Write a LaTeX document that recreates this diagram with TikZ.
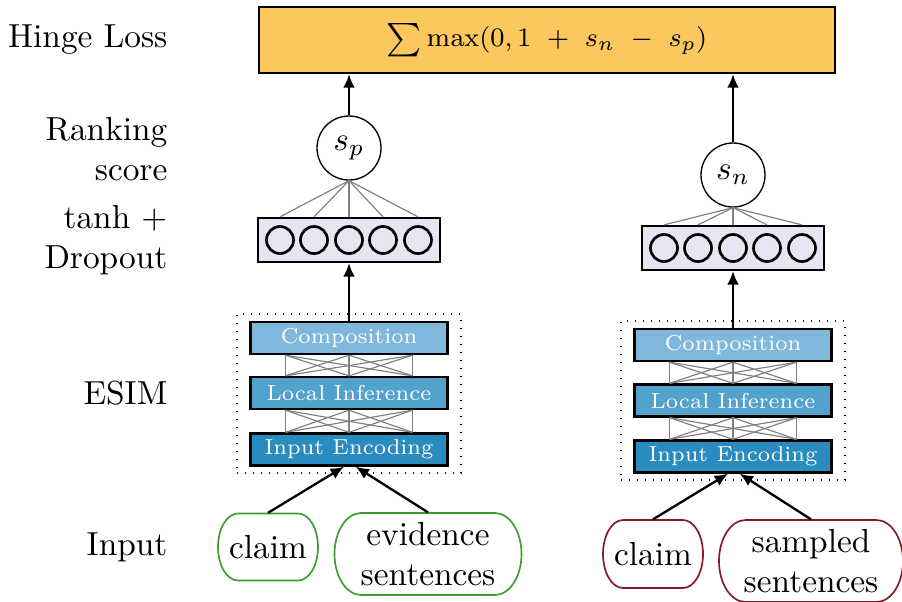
\documentclass[tikz,border=0pt]{standalone}
\usetikzlibrary{arrows.meta}
\definecolor{hingeC}{HTML}{FCC75D}
\definecolor{lavC}{HTML}{E8E4F2}
\definecolor{compC}{HTML}{7FB8DA}
\definecolor{infC}{HTML}{52A2CE}
\definecolor{encC}{HTML}{2A8BBF}
\definecolor{posC}{HTML}{3A9E2E}
\definecolor{negC}{HTML}{85182A}
% #1 node, #2 colour, #3 half width, #4 half height, #5 end x-radius (all with units)
\newcommand{\stadium}[5]{%
  \draw[#2,line width=0.5pt,shift={(#1.center)}]
    ({-#3+#5},#4) -- ({#3-#5},#4)
    arc[start angle=90,end angle=-90,x radius=#5,y radius=#4]
    -- ({-#3+#5},-#4)
    arc[start angle=270,end angle=90,x radius=#5,y radius=#4]
    -- cycle;}
\begin{document}
\begin{tikzpicture}[x=0.3pt,y=-0.3pt,
  lbl/.style={anchor=east,align=right,inner sep=0pt},
  hingebox/.style={draw,line width=0.7pt,fill=hingeC,minimum width=172.8pt,minimum height=19.8pt,inner sep=0pt},
  score/.style={draw,circle,line width=0.4pt,minimum size=19.2pt,inner sep=0pt},
  nbox/.style={draw,line width=0.7pt,fill=lavC,minimum width=54.6pt,minimum height=13.2pt,inner sep=0pt},
  neuron/.style={draw,circle,line width=0.8pt,minimum size=8.1pt,inner sep=0pt},
  layer/.style={draw,line width=0.7pt,minimum width=59.1pt,minimum height=9.6pt,inner sep=0pt,text=white,font=\fontsize{6.5}{8}\selectfont},
  dotbox/.style={draw,dotted,line width=0.4pt,minimum width=67.2pt,minimum height=47.7pt,inner sep=0pt},
  wire/.style={draw=gray,line width=0.35pt},
  arr/.style={line width=0.7pt,-{Latex[length=4pt,width=3.5pt]}},
  inp/.style={align=center,inner sep=0pt}
]
\useasboundingbox (0,0) rectangle (902,601);

% left labels
\node[lbl] (lHinge) at (168,40) {Hinge Loss};
\node[lbl] (lRank) at (168,149) {Ranking\\score};
\node[lbl] (lTanh) at (168,240) {tanh +\\Dropout};
\node[lbl] (lEsim) at (168,393) {ESIM};
\node[lbl] (lInput) at (168,547) {Input};

% hinge box
\node[hingebox] (hinge) at (547,40) {\fontsize{8}{10}\selectfont$\sum \max(0,1\ +\ s_n\ -\ s_p)$};

% ---------- left column ----------
\node[score] (sp) at (349,148) {$s_p$};
\node[nbox] (nbL) at (349,240) {};
\foreach \i/\dx in {1/-69,2/-35,3/0,4/34,5/69}{
  \node[neuron] (nL\i) at (349+\dx,240) {};
  \draw[wire] (sp.south) -- (nL\i |- nbL.north);
}
\node[dotbox] (esL) at (349,393.5) {};
\node[layer,fill=compC] (coL) at (349,338) {Composition};
\node[layer,fill=infC] (liL) at (349,393) {Local Inference};
\node[layer,fill=encC] (ieL) at (349,449.5) {Input Encoding};
\foreach \a in {-63.5,0,63.5}{
  \foreach \b in {-63.5,0,63.5}{
    \draw[wire] ([xshift=\a*0.3pt]coL.south) -- ([xshift=\b*0.3pt]liL.north);
    \draw[wire] ([xshift=\a*0.3pt]liL.south) -- ([xshift=\b*0.3pt]ieL.north);
  }
}
\node[inp,minimum width=30pt,minimum height=20.1pt] (claimL) at (268,547) {claim};
\node[inp,minimum width=56.1pt,minimum height=24.6pt] (evid) at (428,554) {evidence\\sentences};
\stadium{claimL}{posC}{15pt}{10.05pt}{6pt}
\stadium{evid}{posC}{28.05pt}{12.3pt}{8pt}
\draw[arr] (claimL.north) -- ([xshift=-1.5pt]ieL.south);
\draw[arr] (evid.north) -- ([xshift=2pt]ieL.south);
\draw[arr] (coL.north) -- (nbL.south);
\draw[arr] (sp.north) -- (sp |- hinge.south);

% ---------- right column ----------
\node[score] (sn) at (733,175) {$s_n$};
\node[nbox] (nbR) at (733,248) {};
\foreach \i/\dx in {1/-69,2/-35,3/0,4/34,5/69}{
  \node[neuron] (nR\i) at (733+\dx,248) {};
  \draw[wire] (sn.south) -- (nR\i |- nbR.north);
}
\node[dotbox] (esR) at (733,400.5) {};
\node[layer,fill=compC] (coR) at (733,345) {Composition};
\node[layer,fill=infC] (liR) at (733,400.5) {Local Inference};
\node[layer,fill=encC] (ieR) at (733,456.5) {Input Encoding};
\foreach \a in {-63.5,0,63.5}{
  \foreach \b in {-63.5,0,63.5}{
    \draw[wire] ([xshift=\a*0.3pt]coR.south) -- ([xshift=\b*0.3pt]liR.north);
    \draw[wire] ([xshift=\a*0.3pt]liR.south) -- ([xshift=\b*0.3pt]ieR.north);
  }
}
\node[inp,minimum width=30pt,minimum height=20.4pt] (claimR) at (653,554) {claim};
\node[inp,minimum width=55.2pt,minimum height=24.6pt] (samp) at (811,561) {sampled\\sentences};
\stadium{claimR}{negC}{15pt}{10.2pt}{6pt}
\stadium{samp}{negC}{27.6pt}{12.3pt}{8pt}
\draw[arr] (claimR.north) -- ([xshift=-1.5pt]ieR.south);
\draw[arr] (samp.north) -- ([xshift=2pt]ieR.south);
\draw[arr] (coR.north) -- (nbR.south);
\draw[arr] (sn.north) -- (sn |- hinge.south);
\end{tikzpicture}
\end{document}
